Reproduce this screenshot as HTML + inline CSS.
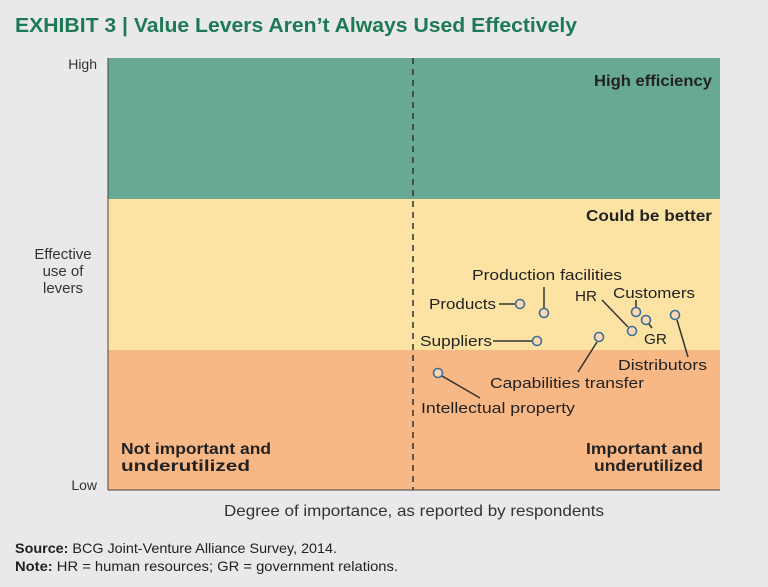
<!DOCTYPE html><html><head><style>body{margin:0;background:#e9e9eb;}svg{display:block}text{font-family:"Liberation Sans",sans-serif}</style></head><body>
<svg width="768" height="587" viewBox="0 0 768 587">
<rect width="768" height="587" fill="#e9e9eb"/>
<text x="15" y="32" font-size="20" font-weight="bold" fill="#1e7a55" textLength="562" lengthAdjust="spacingAndGlyphs">EXHIBIT 3 | Value Levers Aren’t Always Used Effectively</text>
<rect x="108" y="58" width="612" height="141" fill="#68a995"/>
<rect x="108" y="199" width="612" height="151" fill="#fde3a3"/>
<rect x="108" y="350" width="612" height="140" fill="#f8b886"/>
<line x1="108" y1="58" x2="108" y2="490" stroke="#444" stroke-width="1"/>
<line x1="108" y1="490" x2="720" y2="490" stroke="#444" stroke-width="1"/>
<line x1="413" y1="58" x2="413" y2="490" stroke="#333" stroke-width="1.5" stroke-dasharray="6,5"/>
<g font-size="14" fill="#333">
<text x="97" y="69" text-anchor="end">High</text>
<text x="97" y="490" text-anchor="end">Low</text>
<text x="63" y="259" text-anchor="middle" font-size="15">Effective</text>
<text x="63" y="276" text-anchor="middle" font-size="15">use of</text>
<text x="63" y="293" text-anchor="middle" font-size="15">levers</text>
<text x="224" y="516" font-size="16" textLength="380" lengthAdjust="spacingAndGlyphs">Degree of importance, as reported by respondents</text>
</g>
<g font-size="16" font-weight="bold" fill="#222">
<text x="594" y="86" textLength="118" lengthAdjust="spacingAndGlyphs">High efficiency</text>
<text x="586" y="221" textLength="126" lengthAdjust="spacingAndGlyphs">Could be better</text>
<text x="586" y="454" textLength="117" lengthAdjust="spacingAndGlyphs">Important and</text>
<text x="594" y="471" textLength="109" lengthAdjust="spacingAndGlyphs">underutilized</text>
<text x="121" y="454" textLength="150" lengthAdjust="spacingAndGlyphs">Not important and</text>
<text x="121" y="471" textLength="129" lengthAdjust="spacingAndGlyphs">underutilized</text>
</g>
<g stroke="#333" stroke-width="1.5">
<line x1="499" y1="304" x2="515" y2="304"/>
<line x1="544" y1="287" x2="544" y2="308"/>
<line x1="493" y1="341" x2="532" y2="341"/>
<line x1="602" y1="300" x2="628" y2="327"/>
<line x1="636" y1="300" x2="636" y2="307"/>
<line x1="649" y1="324" x2="652" y2="328"/>
<line x1="677" y1="320" x2="688" y2="357"/>
<line x1="597" y1="342" x2="578" y2="372"/>
<line x1="442" y1="376" x2="480" y2="398"/>
</g>
<g fill="#fbd8b4" stroke="#3f6f95" stroke-width="1.6">
<circle cx="520" cy="304" r="4.5"/><circle cx="544" cy="313" r="4.5"/><circle cx="537" cy="341" r="4.5"/>
<circle cx="632" cy="331" r="4.5"/><circle cx="636" cy="312" r="4.5"/><circle cx="646" cy="320" r="4.5"/>
<circle cx="675" cy="315" r="4.5"/><circle cx="599" cy="337" r="4.5"/><circle cx="438" cy="373" r="4.5"/>
</g>
<g font-size="15" fill="#222" lengthAdjust="spacingAndGlyphs">
<text x="472" y="280" textLength="150" lengthAdjust="spacingAndGlyphs">Production facilities</text>
<text x="429" y="309" textLength="67" lengthAdjust="spacingAndGlyphs">Products</text>
<text x="420" y="346" textLength="72" lengthAdjust="spacingAndGlyphs">Suppliers</text>
<text x="575" y="301" textLength="22" lengthAdjust="spacingAndGlyphs">HR</text>
<text x="613" y="298" textLength="82" lengthAdjust="spacingAndGlyphs">Customers</text>
<text x="644" y="344" textLength="23" lengthAdjust="spacingAndGlyphs">GR</text>
<text x="618" y="370" textLength="89" lengthAdjust="spacingAndGlyphs">Distributors</text>
<text x="490" y="388" textLength="154" lengthAdjust="spacingAndGlyphs">Capabilities transfer</text>
<text x="421" y="413" textLength="154" lengthAdjust="spacingAndGlyphs">Intellectual property</text>
</g>
<g font-size="14" fill="#222">
<text x="15" y="553" textLength="322" lengthAdjust="spacingAndGlyphs"><tspan font-weight="bold">Source:</tspan> BCG Joint-Venture Alliance Survey, 2014.</text>
<text x="15" y="571" textLength="383" lengthAdjust="spacingAndGlyphs"><tspan font-weight="bold">Note:</tspan> HR = human resources; GR = government relations.</text>
</g>
</svg></body></html>
